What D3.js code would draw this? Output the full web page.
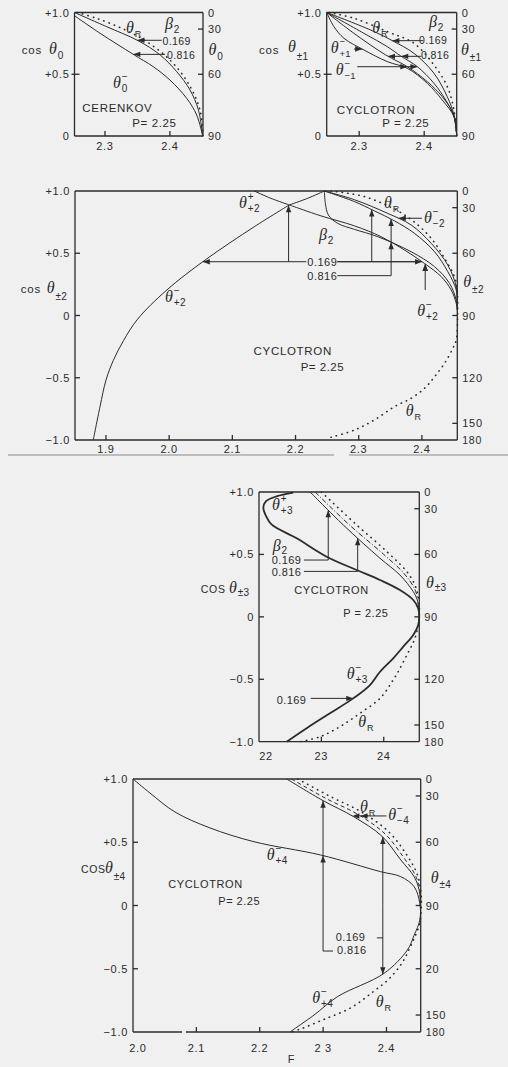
<!DOCTYPE html>
<html>
<head>
<meta charset="utf-8">
<script src="https://cdn.jsdelivr.net/npm/d3@7/dist/d3.min.js"></script>
<style>
  html,body{margin:0;padding:0;background:#f0f0f0;}
  svg{display:block;}
  text{font-family:"Liberation Sans",Arial,sans-serif;fill:#2b2b2b;}
  text.gk{font-family:"Liberation Serif","DejaVu Serif",serif;font-style:italic;}
</style>
</head>
<body>
<svg id="chart" width="508" height="1067"></svg>
<script>
const INK = "#2b2b2b";

// ---------- axis ticks ----------
const cosTicksTop = [1, 0.5, 0];
const cosLabelsTop = ["+1.0", "+0.5", "0"];
const cosTicksFull = [1, 0.5, 0, -0.5, -1];
const cosLabelsFull = ["+1.0", "+0.5", "0", "\u22120.5", "\u22121.0"];
const angTicksTop = [0, 30, 60, 90];
const angTicksFull = [0, 30, 60, 90, 120, 150, 180];
const angLabelsP5 = ["0", "30", "60", "90", "20", "150", "180"];
const fTicksP1 = [2.3, 2.4];
const fTicksP3 = [1.9, 2.0, 2.1, 2.2, 2.3, 2.4];
const fTicksP4 = [22, 23, 24];
const fLabelsP4 = ["22", "23", "24"];
const fTicksP5 = [2.0, 2.1, 2.2, 2.3, 2.4];
const fLabelsP5 = ["2.0", "2.1", "2.2", "2 3", "2.4"];

// ---------- Cerenkov, P = 2.25  (F, cos θ0) ----------
const cerTheta169 = [[2.253,1.0],[2.3026,0.885],[2.351,0.772],[2.385,0.656],[2.4105,0.521],[2.431,0.372],[2.444,0.21],[2.4505,0]];
const cerTheta816 = [[2.253,0.974],[2.2923,0.832],[2.3436,0.661],[2.3744,0.561],[2.4001,0.453],[2.4259,0.305],[2.4413,0.17],[2.4505,0]];
const cerThetaR   = [[2.257,1.0],[2.287,0.953],[2.3257,0.872],[2.3642,0.764],[2.4001,0.615],[2.4283,0.427],[2.4464,0.21],[2.451,0.0]];

// ---------- Cyclotron, harmonic ±1 ----------
const cyc1A = [[2.25,1],[2.3177,0.858],[2.351,0.772],[2.3843,0.669],[2.415,0.508],[2.4355,0.318],[2.4458,0.17],[2.45,0]];
const cyc1B = [[2.25,1],[2.3074,0.831],[2.3433,0.723],[2.3638,0.648],[2.3895,0.561],[2.415,0.427],[2.4331,0.291],[2.4458,0.156],[2.45,0]];
const cyc1C = [[2.25,1],[2.292,0.831],[2.3408,0.656],[2.374,0.561],[2.4048,0.44],[2.4278,0.318],[2.4458,0.17],[2.45,0]];
const cyc1D = [[2.25,1],[2.2612,0.885],[2.2766,0.791],[2.3074,0.696],[2.3433,0.602],[2.374,0.548],[2.4048,0.427],[2.4278,0.291],[2.4458,0.156],[2.45,0]];
const cyc1R = [[2.2535,1],[2.292,0.953],[2.3433,0.845],[2.3843,0.75],[2.415,0.575],[2.4355,0.4],[2.4458,0.21],[2.45,0]];

// ---------- Cyclotron, harmonic ±2 ----------
const cyc2PlusLower = [[1.8799,-1.0],[1.8906,-0.732],[1.9001,-0.518],[1.9117,-0.36],[1.928,-0.2],[1.95,-0.03],[1.9963,0.205],[2.057,0.446],[2.1347,0.713],[2.1901,0.888]];
const cyc2PlusUpper = [[2.1347,1.0],[2.1611,0.941],[2.1901,0.888]];
const cyc2CuspUp    = [[2.1901,0.888],[2.2191,0.941],[2.2456,1.0]];
const cyc2CuspDown  = [[2.1901,0.888],[2.2404,0.8],[2.2932,0.72],[2.3355,0.633],[2.3724,0.526],[2.4041,0.418],[2.4306,0.312],[2.4463,0.205],[2.4543,0.098],[2.4559,0.044]];
const cyc2Steep     = [[2.2456,1],[2.2472,0.901],[2.252,0.807],[2.2668,0.74],[2.2932,0.692],[2.3301,0.633],[2.383,0.512],[2.42,0.392],[2.4437,0.258],[2.4543,0.124],[2.4559,0.044]];
const cyc2MinusA    = [[2.2456,1],[2.2932,0.915],[2.3249,0.84],[2.3566,0.76],[2.3882,0.66],[2.42,0.512],[2.441,0.352],[2.4543,0.205],[2.4559,0.07]];
const cyc2MinusB    = [[2.2456,1],[2.2932,0.93],[2.346,0.82],[2.383,0.727],[2.4147,0.58],[2.441,0.405],[2.4543,0.231],[2.4559,0.1]];
const cyc2R         = [[2.2562,1],[2.309,0.955],[2.3618,0.84],[2.3882,0.75],[2.4147,0.62],[2.4358,0.46],[2.4516,0.31],[2.4559,0.2],[2.4565,0],[2.4543,-0.197],[2.449,-0.263],[2.4358,-0.384],[2.42,-0.492],[2.4041,-0.585],[2.383,-0.665],[2.3566,-0.732],[2.3249,-0.839],[2.2932,-0.92],[2.2562,-0.978]];

// ---------- Cyclotron, harmonic ±3 (F printed ×10) ----------
const cyc3Plus  = [[22.55,0.995],[22.28,0.965],[22.11,0.925],[22.07,0.875],[22.11,0.81],[22.2,0.74],[22.604,0.629],[23.085,0.482],[23.566,0.375],[23.94,0.295],[24.26,0.215],[24.473,0.135],[24.553,0.068],[24.569,0.009],[24.553,-0.065],[24.473,-0.145],[24.313,-0.239],[24.152,-0.332],[23.94,-0.44],[23.779,-0.546],[23.511,-0.653],[23.138,-0.772],[22.764,-0.892],[22.444,-1]];
const cyc3Minus = [[22.82,1],[23.351,0.736],[23.94,0.469],[24.26,0.335],[24.473,0.202],[24.537,0.135],[24.565,0.05]];
const cyc3Mid   = [[22.9,1],[23.45,0.736],[24.0,0.5],[24.32,0.35],[24.49,0.23],[24.55,0.14]];
const cyc3R     = [[23.0,1],[23.566,0.736],[24.05,0.522],[24.37,0.362],[24.5,0.255],[24.553,0.16],[24.57,0],[24.5,-0.172],[24.37,-0.306],[24.23,-0.44],[24.15,-0.506],[23.94,-0.653],[23.62,-0.772],[23.3,-0.879],[22.98,-0.96],[22.66,-1]];

// ---------- Cyclotron, harmonic ±4 ----------
const cyc4Plus  = [[2.0,1.0],[2.0268,0.889],[2.0663,0.739],[2.1216,0.613],[2.191,0.504],[2.2963,0.399],[2.391,0.267],[2.4226,0.228],[2.4436,0.149],[2.4526,0.017],[2.4526,-0.115],[2.4436,-0.235],[2.433,-0.352],[2.3962,-0.536],[2.3225,-0.721],[2.2857,-0.866],[2.2475,-1]];
const cyc4Minus = [[2.2426,1],[2.2999,0.829],[2.3482,0.702],[2.3926,0.549],[2.4226,0.36],[2.4436,0.228],[2.4515,0.123],[2.4535,0.0]];
const cyc4Dash  = [[2.25,1],[2.305,0.845],[2.355,0.72],[2.398,0.565],[2.427,0.38],[2.446,0.235],[2.453,0.12]];
const cyc4R     = [[2.26,1],[2.312,0.86],[2.362,0.735],[2.404,0.58],[2.432,0.4],[2.449,0.24],[2.4545,0.1],[2.455,0],[2.452,-0.15],[2.44,-0.3],[2.425,-0.45],[2.404,-0.58],[2.3795,-0.68],[2.344,-0.808],[2.3015,-0.9],[2.265,-0.975],[2.25,-1]];

const svg = d3.select("#chart");

function txt(x, y, s, o = {}) {
  return svg.append("text").attr("x", x).attr("y", y)
    .attr("font-size", o.size || 11).attr("letter-spacing", o.ls ?? 0.7)
    .attr("text-anchor", o.anchor || "start").text(s);
}
function greek(x, y, sym, sup, sub, o = {}) {
  const size = o.size || 16;
  svg.append("text").attr("class", "gk").attr("x", x).attr("y", y).attr("font-size", size).text(sym);
  const dx = o.dx ?? size * 0.55;
  if (sup) txt(x + dx, y - size * 0.5, sup, { size: o.ss || 10, ls: 0 });
  if (sub) txt(x + dx, y + (o.subDy ?? size * 0.28), sub, { size: o.ss || 10, ls: 0.3 });
}

const STYLES = {
  solid: { w: 1.0 },
  thick: { w: 1.8 },
  dot:   { w: 1.6, dash: "0.4 5.2", cap: "round" },
  dash:  { w: 1.0, dash: "4 3" },
  dashdot: { w: 1.0, dash: "5 2 1 2" }
};

function samplePath(node) {
  const L = node.getTotalLength(), pts = [];
  for (let l = 0; l <= L; l += 0.4) { const p = node.getPointAtLength(l); pts.push([p.x, p.y]); }
  return pts;
}
function hitAtY(pts, y, gx) {
  let best = null;
  for (let i = 0; i < pts.length - 1; i++) {
    const a = pts[i], b = pts[i + 1];
    if ((a[1] - y) * (b[1] - y) <= 0 && a[1] !== b[1]) {
      const x = a[0] + (y - a[1]) / (b[1] - a[1]) * (b[0] - a[0]);
      if (best === null || Math.abs(x - gx) < Math.abs(best - gx)) best = x;
    }
  }
  return best === null ? gx : best;
}
function hitAtX(pts, x, gy) {
  let best = null;
  for (let i = 0; i < pts.length - 1; i++) {
    const a = pts[i], b = pts[i + 1];
    if ((a[0] - x) * (b[0] - x) <= 0 && a[0] !== b[0]) {
      const y = a[1] + (x - a[0]) / (b[0] - a[0]) * (b[1] - a[1]);
      if (best === null || Math.abs(y - gy) < Math.abs(best - gy)) best = y;
    }
  }
  return best === null ? gy : best;
}
function head(g, x, y, ang, L = 7, hw = 2.7) {
  const bx = x - L * Math.cos(ang), by = y - L * Math.sin(ang);
  const px = -Math.sin(ang) * hw, py = Math.cos(ang) * hw;
  g.append("path").attr("d", `M${x},${y}L${bx + px},${by + py}L${bx - px},${by - py}Z`).attr("fill", INK);
}

function panel(cfg) {
  const sx = d3.scaleLinear().domain(cfg.F).range(cfg.x);
  const sy = d3.scaleLinear().domain(cfg.c).range([cfg.y[1], cfg.y[0]]);
  const [x0, x1] = cfg.x, [y0, y1] = cfg.y;
  const g = svg.append("g");
  const fr = g.append("g").attr("stroke", INK).attr("stroke-width", 1.3).attr("fill", "none");
  fr.append("line").attr("x1", x0).attr("x2", x1).attr("y1", y0).attr("y2", y0);
  fr.append("line").attr("x1", x0).attr("x2", x0).attr("y1", y0).attr("y2", y1);
  fr.append("line").attr("x1", x1).attr("x2", x1).attr("y1", y0).attr("y2", y1);
  if (cfg.gap) {
    fr.append("line").attr("x1", x0).attr("x2", cfg.gap[0]).attr("y1", y1).attr("y2", y1);
    fr.append("line").attr("x1", cfg.gap[1]).attr("x2", x1).attr("y1", y1).attr("y2", y1);
  } else {
    fr.append("line").attr("x1", x0).attr("x2", x1).attr("y1", y1).attr("y2", y1);
  }
  // left axis: cos θ
  cfg.cosTicks.forEach((v, i) => {
    const y = sy(v);
    if (v !== cfg.c[0] && v !== cfg.c[1]) fr.append("line").attr("x1", x0 - (cfg.tickOut ? 3 : 0)).attr("x2", x0 + 5).attr("y1", y).attr("y2", y);
    txt(x0 - 5, y + 4, cfg.cosLabels[i], { anchor: "end" });
  });
  // right axis: θ in degrees
  cfg.angTicks.forEach((a, i) => {
    const y = sy(Math.cos(a * Math.PI / 180));
    if (a !== 0 && a !== 90 && a !== 180 || (cfg.c[0] < 0 && a === 90)) fr.append("line").attr("x1", x1 - 5).attr("x2", x1).attr("y1", y).attr("y2", y);
    txt(x1 + 5, y + 4, cfg.angLabels ? cfg.angLabels[i] : String(a), { size: a === 180 ? 10.5 : 11 });
  });
  // bottom axis: F
  cfg.fTicks.forEach((f, i) => {
    const x = sx(f);
    if (Math.abs(x - x0) > 2) fr.append("line").attr("x1", x).attr("x2", x).attr("y1", y1).attr("y2", y1 - 5);
    txt(x + (cfg.fDx ? cfg.fDx[i] : 0), cfg.fBase, cfg.fLabels ? cfg.fLabels[i] : f.toFixed(1), { anchor: "middle", size: 11 });
  });
  // curves
  const line = d3.line().x(d => sx(d[0])).y(d => sy(d[1])).curve(d3.curveCatmullRom.alpha(0.5));
  const samples = {};
  cfg.curves.forEach(cv => {
    const st = STYLES[cv.style];
    const p = g.append("path").attr("d", line(cv.data)).attr("fill", "none").attr("stroke", INK)
      .attr("stroke-width", st.w).attr("stroke-linejoin", "round");
    if (st.dash) p.attr("stroke-dasharray", st.dash);
    if (st.cap) p.attr("stroke-linecap", st.cap);
    samples[cv.id] = samplePath(p.node());
  });
  // leader lines
  const lg = g.append("g").attr("stroke", INK).attr("stroke-width", 1).attr("fill", "none");
  (cfg.leaders || []).forEach(pl => {
    lg.append("path").attr("d", d3.line().x(d => sx(d[0])).y(d => sy(d[1]))(pl));
  });
  // arrows ending on curves
  (cfg.arrows || []).forEach(a => {
    if (a.h !== undefined) {
      const y = sy(a.h);
      const tx = hitAtY(samples[a.curve], y, sx(a.guess));
      if (a.from !== undefined) lg.append("line").attr("x1", sx(a.from)).attr("x2", tx).attr("y1", y).attr("y2", y);
      head(g, tx, y, (a.from !== undefined ? sx(a.from) : tx + (a.dir === "l" ? 1 : -1)) > tx ? Math.PI : 0);
    } else {
      const x = sx(a.v);
      const ty = hitAtX(samples[a.curve], x, sy(a.guess));
      if (a.from !== undefined) lg.append("line").attr("x1", x).attr("x2", x).attr("y1", sy(a.from)).attr("y2", ty);
      const fromY = a.from !== undefined ? sy(a.from) : ty + (a.dir === "u" ? 1 : -1);
      head(g, x, ty, fromY > ty ? -Math.PI / 2 : Math.PI / 2);
    }
  });
  return { sx, sy };
}

// ---------- Cerenkov ----------
panel({
  x: [74.5, 203], y: [12.5, 136], F: [2.253, 2.451], c: [0, 1], tickOut: true,
  cosTicks: cosTicksTop, cosLabels: cosLabelsTop, angTicks: angTicksTop,
  fTicks: fTicksP1, fBase: 150,
  curves: [
    { id: "R", data: cerThetaR, style: "dot" },
    { id: "a", data: cerTheta169, style: "solid" },
    { id: "b", data: cerTheta816, style: "solid" }
  ],
  arrows: [
    { h: 0.775, from: 2.3874, curve: "a", guess: 2.345 },
    { h: 0.661, from: 2.3924, curve: "b", guess: 2.34 }
  ]
});
txt(162.5, 44.5, "0.169", { size: 10.5, ls: 0.4 });
txt(167, 58.5, "0.816", { size: 10.5, ls: 0.4 });
greek(126, 33, "\u03b8", null, "R", { ss: 9 });
greek(165, 29, "\u03b2", null, "2", { ss: 10 });
greek(113, 88, "\u03b8", "\u2212", "0", { ss: 10 });
txt(82.3, 111.5, "CERENKOV", { size: 11.5, ls: 0.7 });
txt(132.3, 126.5, "P= 2.25", { size: 11.5, ls: 0.6 });
txt(21.7, 53.5, "cos", { size: 11.5, ls: 0.8 });
greek(49, 53.5, "\u03b8", null, "0", { ss: 10, subDy: 5 });
greek(208.5, 55, "\u03b8", null, "0", { ss: 10, subDy: 5 });

// ---------- Cyclotron ±1 ----------
panel({
  x: [326.7, 456.7], y: [12.5, 136], F: [2.25, 2.45], c: [0, 1], tickOut: true,
  cosTicks: cosTicksTop, cosLabels: cosLabelsTop, angTicks: angTicksTop,
  fTicks: fTicksP1, fBase: 150,
  curves: [
    { id: "R", data: cyc1R, style: "dot" },
    { id: "A", data: cyc1A, style: "solid" },
    { id: "B", data: cyc1B, style: "solid" },
    { id: "C", data: cyc1C, style: "solid" },
    { id: "D", data: cyc1D, style: "solid" }
  ],
  arrows: [
    { h: 0.772, from: 2.3985, curve: "A", guess: 2.35 },
    { h: 0.645, from: 2.3955, curve: "C", guess: 2.342 },
    { h: 0.645, curve: "B", guess: 2.364, dir: "l" },
    { h: 0.704, from: 2.292, curve: "D", guess: 2.307 },
    { h: 0.561, from: 2.297, curve: "B", guess: 2.39 },
    { h: 0.561, curve: "C", guess: 2.374, dir: "r" }
  ]
});
txt(419, 44, "0.169", { size: 10.5, ls: 0.4 });
txt(421, 59, "0.816", { size: 10.5, ls: 0.4 });
greek(372.3, 33, "\u03b8", null, "R", { ss: 9 });
greek(429, 27, "\u03b2", null, "2", { ss: 10 });
greek(330.7, 53, "\u03b8", "\u2212", "+1", { ss: 9.5, subDy: 4 });
greek(335.7, 75, "\u03b8", "\u2212", "\u22121", { ss: 9.5, subDy: 4 });
txt(336.7, 113.5, "CYCLOTRON", { size: 11.5, ls: 0.7 });
txt(382.3, 126.5, "P = 2.25", { size: 11.5, ls: 0.5 });
txt(259, 53.5, "cos", { size: 11.5, ls: 0.8 });
greek(288, 52, "\u03b8", null, "\u00b11", { ss: 10, subDy: 8 });
greek(461, 55, "\u03b8", null, "\u00b11", { ss: 10, subDy: 6 });

// ---------- Cyclotron ±2 ----------
panel({
  x: [75, 457.3], y: [191, 440], F: [1.851, 2.456], c: [-1, 1],
  cosTicks: cosTicksFull, cosLabels: cosLabelsFull, angTicks: angTicksFull,
  fTicks: fTicksP3, fBase: 453,
  curves: [
    { id: "R", data: cyc2R, style: "dot" },
    { id: "PL", data: cyc2PlusLower, style: "solid" },
    { id: "PU", data: cyc2PlusUpper, style: "solid" },
    { id: "CU", data: cyc2CuspUp, style: "solid" },
    { id: "CD", data: cyc2CuspDown, style: "solid" },
    { id: "S", data: cyc2Steep, style: "solid" },
    { id: "MA", data: cyc2MinusA, style: "solid" },
    { id: "MB", data: cyc2MinusB, style: "solid" }
  ],
  leaders: [
    [[2.266, 0.432], [2.39, 0.432]],
    [[2.266, 0.32], [2.3513, 0.32]]
  ],
  arrows: [
    { h: 0.432, from: 2.217, curve: "PL", guess: 2.057 },
    { v: 2.189, from: 0.432, curve: "PL", guess: 0.87 },
    { h: 0.432, from: 2.266, curve: "CD", guess: 2.39 },
    { v: 2.3206, from: 0.432, curve: "MA", guess: 0.84 },
    { v: 2.3513, from: 0.32, curve: "MA", guess: 0.75 },
    { v: 2.3513, curve: "S", guess: 0.586, dir: "u" },
    { h: 0.781, from: 2.4, curve: "MB", guess: 2.355 },
    { v: 2.4052, from: 0.205, curve: "CD", guess: 0.43 },
    { v: 2.4052, curve: "CD", guess: 0.43, dir: "u", off: 0 }
  ]
});
txt(307.3, 265.5, "0.169", { size: 11, ls: 0.5 });
txt(307.3, 280, "0.816", { size: 11, ls: 0.5 });
greek(239, 208, "\u03b8", "+", "+2", { ss: 10 });
greek(384, 207.5, "\u03b8", null, "R", { ss: 9 });
greek(424, 222.5, "\u03b8", "\u2212", "\u22122", { ss: 10 });
greek(319, 240, "\u03b2", null, "2", { ss: 10 });
greek(165, 302, "\u03b8", "\u2212", "+2", { ss: 10 });
greek(417.3, 316, "\u03b8", "\u2212", "+2", { ss: 10 });
txt(253.5, 355, "CYCLOTRON", { size: 11.5, ls: 0.7 });
txt(300.7, 371, "P= 2.25", { size: 11.5, ls: 0.5 });
greek(405.7, 415.5, "\u03b8", null, "R", { ss: 9 });
txt(20.7, 293.3, "cos", { size: 11.5, ls: 0.8 });
greek(46.7, 293.3, "\u03b8", null, "\u00b12", { ss: 10, subDy: 7 });
greek(463.3, 287, "\u03b8", null, "\u00b12", { ss: 10, subDy: 6 });

// separator rule between the two halves of the figure
svg.append("line").attr("x1", 8).attr("x2", 334).attr("y1", 455).attr("y2", 455).attr("stroke", "#8a8a8a").attr("stroke-width", 1);
svg.append("line").attr("x1", 349).attr("x2", 508).attr("y1", 455).attr("y2", 455).attr("stroke", "#8a8a8a").attr("stroke-width", 1);

// ---------- Cyclotron ±3 ----------
panel({
  x: [259, 419.3], y: [492, 741.7], F: [22.0, 24.57], c: [-1, 1],
  cosTicks: cosTicksFull, cosLabels: cosLabelsFull, angTicks: angTicksFull,
  fTicks: fTicksP4, fLabels: fLabelsP4, fDx: [7, 0, 0], fBase: 760,
  curves: [
    { id: "R", data: cyc3R, style: "dot" },
    { id: "M", data: cyc3Minus, style: "solid" },
    { id: "X", data: cyc3Mid, style: "dashdot" },
    { id: "P", data: cyc3Plus, style: "thick" }
  ],
  leaders: [
    [[22.72, 0.455], [23.11, 0.455]],
    [[22.72, 0.364], [23.582, 0.364]]
  ],
  arrows: [
    { v: 23.11, from: 0.455, curve: "M", guess: 0.85 },
    { v: 23.582, from: 0.364, curve: "M", guess: 0.63 },
    { h: -0.653, from: 22.83, curve: "P", guess: 23.5 }
  ]
});
greek(272.7, 550.5, "\u03b2", null, "2", { ss: 10, subDy: 3 });
txt(271.7, 564, "0.169", { size: 11, ls: 0.4 });
txt(271.7, 576, "0.816", { size: 11, ls: 0.4 });
greek(272, 510, "\u03b8", "+", "+3", { ss: 10 });
txt(294.3, 594.3, "CYCLOTRON", { size: 11, ls: 0.6 });
txt(343.3, 617.3, "P = 2.25", { size: 11, ls: 0.5 });
greek(346.7, 679, "\u03b8", "\u2212", "+3", { ss: 10 });
txt(276.7, 704, "0.169", { size: 11, ls: 0.4 });
greek(358.3, 727, "\u03b8", null, "R", { ss: 9 });
txt(200.7, 593.3, "COS", { size: 10.5, ls: 0.8 });
greek(229, 593.3, "\u03b8", null, "\u00b13", { ss: 10, subDy: 3 });
greek(426, 588, "\u03b8", null, "\u00b13", { ss: 10, subDy: 3 });

// ---------- Cyclotron ±4 ----------
panel({
  x: [133, 420.7], y: [779, 1032], F: [2.0, 2.454], c: [-1, 1], gap: [182, 186],
  cosTicks: cosTicksFull, cosLabels: cosLabelsFull, angTicks: angTicksFull, angLabels: angLabelsP5,
  fTicks: fTicksP5, fLabels: fLabelsP5, fDx: [5, 0, 0, 0, 0], fBase: 1052,
  curves: [
    { id: "R", data: cyc4R, style: "dot" },
    { id: "D", data: cyc4Dash, style: "dash" },
    { id: "M", data: cyc4Minus, style: "solid" },
    { id: "P", data: cyc4Plus, style: "solid" }
  ],
  leaders: [
    [[2.3942, 0.0], [2.3942, -0.2]],
    [[2.3849, -0.256], [2.3942, -0.256]],
    [[2.3157, -0.36], [2.2999, -0.36], [2.2999, 0.4]]
  ],
  arrows: [
    { v: 2.3942, from: 0.0, curve: "M", guess: 0.55 },
    { v: 2.3942, from: -0.2, curve: "P", guess: -0.55 },
    { v: 2.2999, curve: "P", guess: 0.4, dir: "u" },
    { v: 2.2999, from: 0.4, curve: "M", guess: 0.83 },
    { h: 0.708, from: 2.4, curve: "D", guess: 2.36 },
    { h: 0.708, curve: "M", guess: 2.346, dir: "l" }
  ]
});
greek(266.7, 860, "\u03b8", "\u2212", "+4", { ss: 10 });
txt(168.3, 887.7, "CYCLOTRON", { size: 11, ls: 0.6 });
txt(218.3, 905, "P= 2.25", { size: 11, ls: 0.5 });
txt(335.7, 940.5, "0.169", { size: 11, ls: 0.4 });
txt(337, 954, "0.816", { size: 11, ls: 0.4 });
greek(312.3, 1003, "\u03b8", "\u2212", "+4", { ss: 10 });
greek(375.7, 1007, "\u03b8", null, "R", { ss: 9 });
greek(360, 812, "\u03b8", null, "R", { ss: 9 });
greek(388.3, 820, "\u03b8", "\u2212", "\u22124", { ss: 10 });
txt(81, 873.3, "COS", { size: 10.5, ls: 0.6 });
greek(105, 873, "\u03b8", null, "\u00b14", { ss: 10, subDy: 7 });
greek(430.7, 883, "\u03b8", null, "\u00b14", { ss: 10, subDy: 5 });
txt(287.7, 1063, "F", { size: 11 });
</script>
</body>
</html>
